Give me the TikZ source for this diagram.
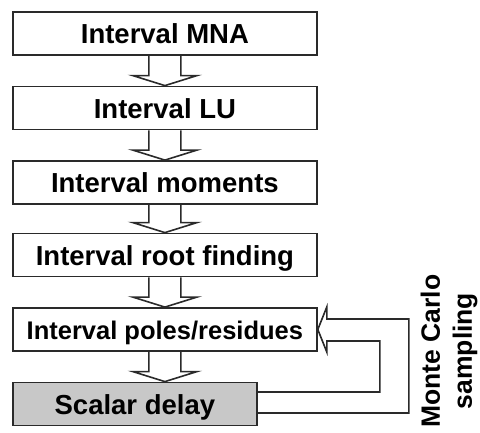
\documentclass[tikz,border=0pt]{standalone}
\usepackage{fontspec}
\setmainfont{Liberation Sans}
\usetikzlibrary{calc}
\definecolor{edge}{HTML}{2A2A2A}
\definecolor{shade}{HTML}{C8C8C8}
\newcommand\blockarr[2]{%
  \path (#1.south) coordinate (t) (t |- #2.north) coordinate (h);
  \draw[barrow] ($(t)+(-16,0)$) -- ($(h)+(-16,-10)$) -- ($(h)+(-32,-10)$) -- (h)
    -- ($(h)+(32,-10)$) -- ($(h)+(16,-10)$) -- ($(t)+(16,0)$);}
\begin{document}
\begin{tikzpicture}[x=1pt,y=-1pt,
  box/.style={draw=edge, line width=1.8pt, fill=white, minimum width=304pt,
    minimum height=43pt, inner sep=0pt, anchor=west,
    font=\fontsize{27.5}{33}\selectfont\bfseries, text height=20pt, text depth=0pt},
  barrow/.style={draw=edge, line width=1.6pt, line join=miter}]
\useasboundingbox (0,0) rectangle (480,432);
\node[box] (s1) at (12,33.5) {Interval MNA};
\node[box] (s2) at (12,108) {Interval LU};
\node[box] (s3) at (12,182.5) {Interval moments};
\node[box] (s4) at (12,255) {Interval root finding};
\node[box, font=\fontsize{25.5}{31}\selectfont\bfseries] (s5) at (12,329.5) {Interval poles/residues};
\node[box, fill=shade, minimum width=244pt] (s6) at (12,404) {Scalar delay};
\blockarr{s1}{s2}
\blockarr{s2}{s3}
\blockarr{s3}{s4}
\blockarr{s4}{s5}
\blockarr{s5}{s6}
\draw[barrow] ($(s6.east)+(0,-12)$) -| ($(s5.east)+(62,11.5)$) -- ($(s5.east)+(9,11.5)$)
  -- ($(s5.east)+(9,22.5)$) -- (s5.east) -- ($(s5.east)+(9,-22.5)$)
  -- ($(s5.east)+(9,-10.5)$) -| ($(s6.east)+(151,9)$) -- ($(s6.east)+(0,9)$);
\node[rotate=90, align=center, inner sep=0pt, font=\fontsize{26.5}{32}\selectfont\bfseries] (mc) at (449,351) {Monte Carlo\\sampling};
\end{tikzpicture}
\end{document}
